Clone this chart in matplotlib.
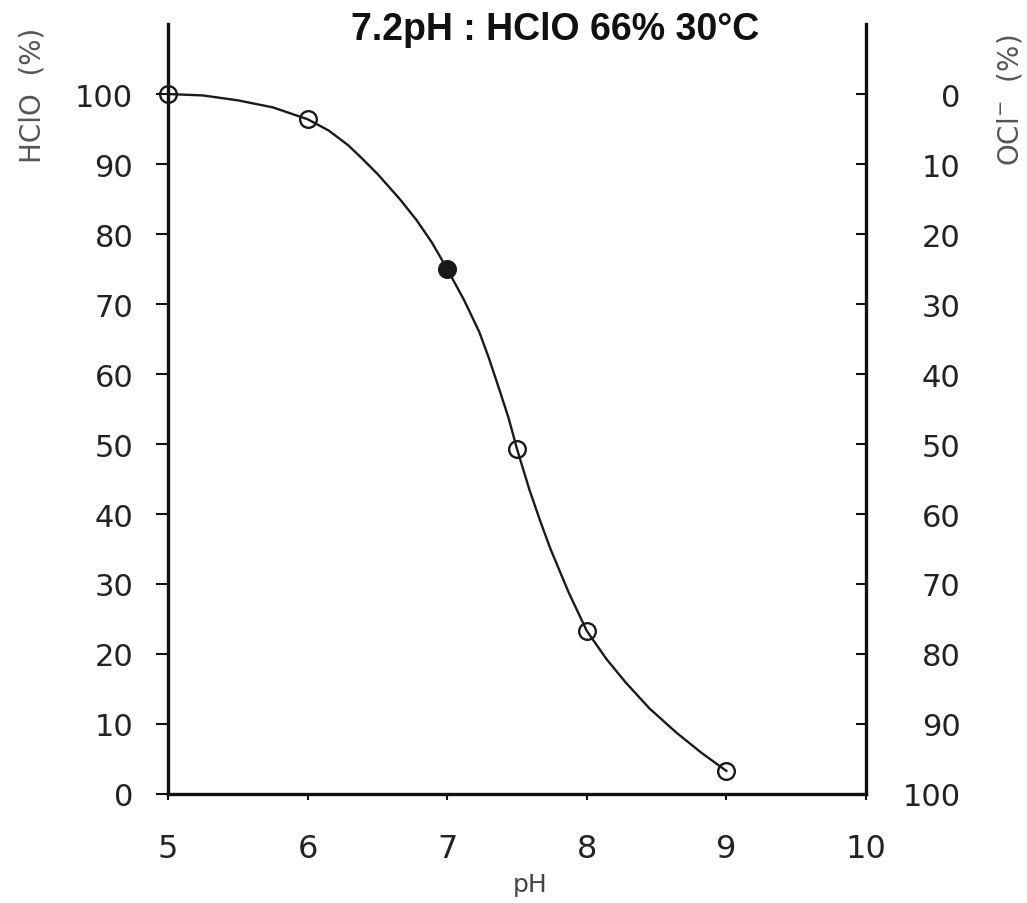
import matplotlib
matplotlib.use('Agg')
import matplotlib.pyplot as plt

# measured points: pH vs HClO share (%)
ph_pts = [5, 6, 7, 7.5, 8, 9]
hclo_pts = [100, 96.4, 75, 49.3, 23.3, 3.3]
filled = [False, False, True, False, False, False]

# the drawn curve
ph_curve = [5.0, 5.25, 5.5, 5.75, 6.0, 6.15, 6.29, 6.4, 6.5, 6.66, 6.78, 6.89, 7.0,
            7.12, 7.23, 7.3, 7.37, 7.44, 7.5, 7.59, 7.67, 7.74, 7.87, 8.0, 8.14,
            8.28, 8.45, 8.64, 8.82, 9.0]
hclo_curve = [100, 99.8, 99.1, 98.1, 96.4, 94.8, 92.7, 90.6, 88.6, 85.0, 82.0, 78.8, 75.0,
              70.6, 66.0, 62.2, 58.0, 53.7, 49.3, 43.4, 38.8, 35.0, 28.8, 23.3, 19.3,
              15.9, 12.2, 8.8, 5.9, 3.3]

x_ticks = [5, 6, 7, 8, 9, 10]
left_ticks = list(range(0, 101, 10))
right_ticks = list(range(0, 101, 10))

title = '7.2pH : HClO 66% 30°C'

fig = plt.figure(figsize=(10.27, 9.04), dpi=100)
ax = fig.add_axes([0.1636, 0.1206, 0.6796, 0.8517])

ax.plot(ph_curve, hclo_curve, '-', color='#1a1a1a', lw=1.7, zorder=3)
for x, y, f in zip(ph_pts, hclo_pts, filled):
    ax.plot(x, y, 'o', ms=12, mew=1.7, mec='#1a1a1a',
            mfc='#1a1a1a' if f else 'none', zorder=4, clip_on=False)

ax.set_xlim(5, 10)
ax.set_ylim(0, 110)
ax.spines['top'].set_visible(False)
for s in ['left', 'bottom', 'right']:
    ax.spines[s].set_linewidth(2.4)
    ax.spines[s].set_color('#111111')

ax.set_xticks(x_ticks)
ax.set_yticks(left_ticks)
ax.tick_params(axis='y', direction='out', length=9, width=1.5, pad=16,
               labelsize=22, colors='#111111', labelcolor='#222222')
ax.tick_params(axis='x', direction='out', length=4, width=1.5, pad=24,
               labelsize=23, colors='#111111', labelcolor='#222222')

ax2 = ax.twinx()
ax2.set_ylim(100, -10)
ax2.set_yticks(right_ticks)
for s in ['left', 'bottom', 'top', 'right']:
    ax2.spines[s].set_visible(False)
ax2.tick_params(axis='y', direction='in', length=7, width=1.5, pad=68,
                labelsize=22, colors='#111111', labelcolor='#222222')
for lbl in ax2.get_yticklabels():
    lbl.set_horizontalalignment('right')

fig.text(0.516, 1 - 885 / 904, 'pH', ha='center', va='center',
         fontsize=18, color='#444444')
fig.text(32 / 1027, 1 - 95 / 904, 'HClO  (%)', ha='center', va='center',
         rotation=90, fontsize=20, color='#555555')
fig.text(1010 / 1027, 1 - 100 / 904, 'OCl$^{-}$  (%)', ha='center', va='center',
         rotation=90, fontsize=20, color='#555555')
fig.text(555 / 1027, 1 - 40 / 904, title, ha='center', va='baseline',
         fontsize=27, fontweight='bold', family='Liberation Sans', color='#111111')

fig.savefig('out.png', dpi=100)
